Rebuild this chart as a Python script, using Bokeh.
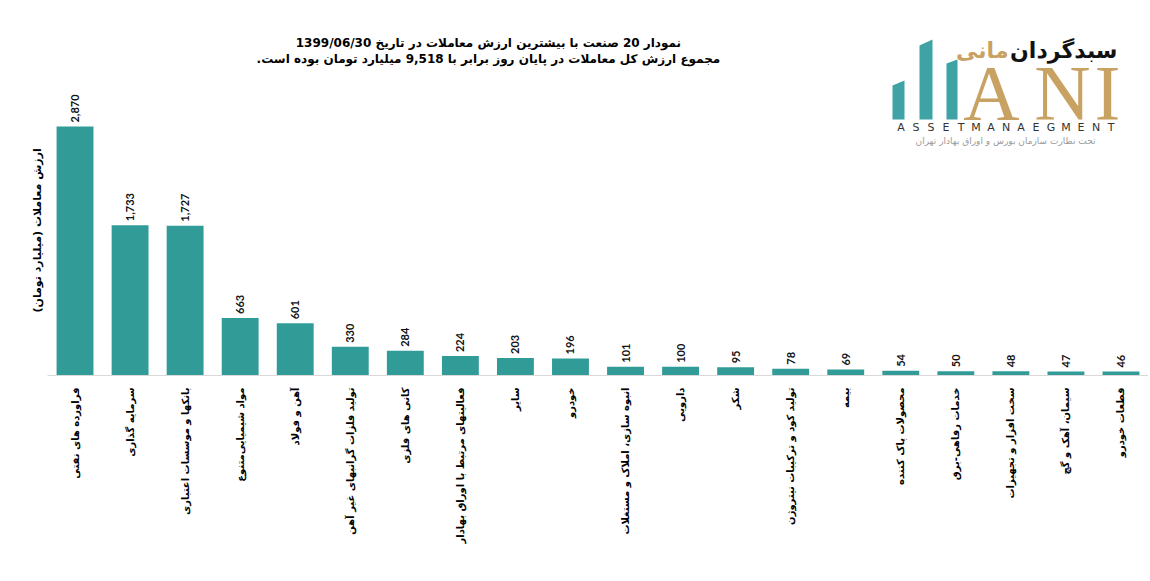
import math
from bokeh.plotting import figure
from bokeh.models import ColumnDataSource, FactorRange, Range1d, Label, PolyAnnotation, Title
from bokeh.core.properties import value
from bokeh.embed import file_html
from bokeh.resources import INLINE

categories = [
    "فراورده های نفتی",
    "سرمایه گذاری",
    "بانکها و موسسات اعتباری",
    "مواد شیمیایی‌متنوع",
    "آهن و فولاد",
    "تولید فلزات گرانبهای غیر آهن",
    "کانی های فلزی",
    "فعالیتهای مرتبط با اوراق بهادار",
    "سایر",
    "خودرو",
    "انبوه سازی، املاک و مستغلات",
    "دارویی",
    "شکر",
    "تولید کود و ترکیبات نیتروژن",
    "بیمه",
    "محصولات پاک کننده",
    "خدمات رفاهی-برق",
    "سخت افزار و تجهیزات",
    "سیمان، آهک و گچ",
    "قطعات خودرو",
]
values = [2870, 1733, 1727, 663, 601, 330, 284, 224, 203, 196, 101, 100, 95, 78, 69, 54, 50, 48, 47, 46]
value_labels = [f"{v:,}" for v in values]

RLM = "\u200f"
title_line1 = RLM + "نمودار  20 صنعت با بیشترین ارزش معاملات در تاریخ 1399/06/30" + RLM
title_line2 = RLM + "مجموع ارزش  کل معاملات در پایان روز برابر با 9,518 میلیارد تومان بوده است." + RLM
y_axis_title = RLM + "ارزش معاملات (میلیارد تومان)" + RLM
logo_fa_1 = "سبدگردان"
logo_fa_2 = "مانی"
logo_en = "ASSETMANAEGMENT"
logo_sub = "تحت نظارت سازمان بورس و اوراق بهادار تهران"

BAR = "#319B98"
TEAL = "#3FA3A6"
GOLD = "#C8A263"
FA_FONT = "DejaVu Sans"

W, H = 1148, 579
FL, FB, FT = 47, 375, 20  # frame left / bottom / top in page pixels
Y_END = 3300 * (FB - FT) / 286.3

src = ColumnDataSource(dict(cat=categories, val=values, lbl=value_labels))

p = figure(width=W, height=H,
           x_range=FactorRange(factors=categories),
           y_range=Range1d(0, Y_END),
           output_backend="svg", toolbar_location=None,
           min_border_left=FL, min_border_right=0,
           min_border_top=FT, min_border_bottom=H - FB)

p.vbar(x="cat", top="val", width=0.67, source=src, fill_color=BAR, line_color=None)
p.text(x="cat", y="val", text="lbl", source=src, angle=math.pi / 2,
       text_align="left", text_baseline="middle", y_offset=-4,
       text_font=value("Lato"), text_font_style="bold", text_font_size="11px",
       text_color="#111111")

p.xgrid.visible = False
p.ygrid.visible = False
p.outline_line_color = None
p.background_fill_color = "white"

xa = p.xaxis[0]
xa.axis_line_color = "#D9D9D9"
xa.major_tick_line_color = None
xa.minor_tick_line_color = None
xa.major_label_orientation = math.pi / 2
xa.major_label_standoff = 6
xa.major_label_text_font = FA_FONT
xa.major_label_text_font_style = "bold"
xa.major_label_text_font_size = "10px"
xa.major_label_text_color = "#000000"

p.yaxis.visible = False

# y-axis title as a left-side title
p.add_layout(Title(text=y_axis_title, align="left", offset=FB - 312, standoff=7,
                   text_font=FA_FONT, text_font_style="bold", text_font_size="11px",
                   text_color="#000000"), "left")


def sx(px):
    return px - FL


def sy(py):
    return FB - py


# title
for txt, py in ((title_line1, 42), (title_line2, 58)):
    p.add_layout(Label(x=sx(490), y=sy(py), x_units="screen", y_units="screen", text=txt,
                       text_align="center", text_baseline="middle", text_font=FA_FONT,
                       text_font_style="bold", text_font_size="12px", text_color="#000000"))

# logo bars
for x0, x1, tl, tr in ((892, 904, 85, 80), (919, 932, 45, 39), (946, 957, 63, 59)):
    p.add_layout(PolyAnnotation(xs=[sx(x0), sx(x1), sx(x1), sx(x0)],
                                ys=[sy(tl), sy(tr), sy(119), sy(119)],
                                xs_units="screen", ys_units="screen",
                                fill_color=TEAL, fill_alpha=1.0, line_color=None))

for ch, cx in (("A", 991), ("N", 1062), ("I", 1107)):
    p.add_layout(Label(x=sx(cx), y=sy(92), x_units="screen", y_units="screen", text=ch,
                       text_align="center", text_baseline="middle",
                       text_font="Liberation Serif", text_font_size="78px", text_color=GOLD))

p.add_layout(Label(x=sx(1117), y=sy(50), x_units="screen", y_units="screen", text=logo_fa_1,
                   text_align="right", text_baseline="middle", text_font=FA_FONT,
                   text_font_style="bold", text_font_size="22px", text_color="#111111"))
p.add_layout(Label(x=sx(1008), y=sy(50), x_units="screen", y_units="screen", text=logo_fa_2,
                   text_align="right", text_baseline="middle", text_font=FA_FONT,
                   text_font_style="bold", text_font_size="22px", text_color=GOLD))

for i, ch in enumerate(logo_en):
    p.add_layout(Label(x=sx(893 + 7.5 + 15 * i), y=sy(127), x_units="screen", y_units="screen",
                       text=ch, text_align="center", text_baseline="middle",
                       text_font="DejaVu Sans", text_font_size="11px", text_color="#333333"))

p.add_layout(Label(x=sx(1005), y=sy(140), x_units="screen", y_units="screen", text=logo_sub,
                   text_align="center", text_baseline="middle", text_font=FA_FONT,
                   text_font_size="9px", text_color="#9A9A9A"))

open("out.html", "w").write(file_html(p, INLINE))
